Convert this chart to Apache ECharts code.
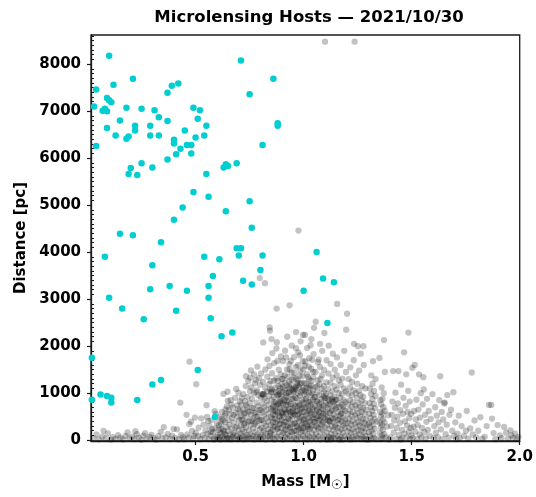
<!DOCTYPE html>
<html>
<head>
<meta charset="utf-8">
<script src="https://cdn.jsdelivr.net/npm/echarts@6/dist/echarts.min.js"></script>
<style>
html,body{margin:0;padding:0;background:#fff;}
#chart{width:536px;height:497px;}
</style>
</head>
<body>
<div id="chart"></div>
<script>
// ---- Data (mass [Msun], distance [pc]) ----
const titleText = 'Microlensing Hosts \u2014 2021/10/30';
const xTicks = [0.5, 1.0, 1.5, 2.0];
const yTicks = [0, 1000, 2000, 3000, 4000, 5000, 6000, 7000, 8000];
const xMinorTicks = [0.1,0.2,0.3,0.4,0.6,0.7,0.8,0.9,1.1,1.2,1.3,1.4,1.6,1.7,1.8,1.9];
const yMinorTicks = [100,200,300,400,500,600,700,800,900,1100,1200,1300,1400,1500,1600,1700,1800,1900,
  2100,2200,2300,2400,2500,2600,2700,2800,2900,3100,3200,3300,3400,3500,3600,3700,3800,3900,
  4100,4200,4300,4400,4500,4600,4700,4800,4900,5100,5200,5300,5400,5500,5600,5700,5800,5900,
  6100,6200,6300,6400,6500,6600,6700,6800,6900,7100,7200,7300,7400,7500,7600,7700,7800,7900,
  8100,8200,8300,8400,8500,8600];

// Detected microlensing hosts (cyan)
const detectedHosts = [
[0.10,8180],[0.71,8080],[0.86,7690],[0.21,7690],[0.04,7460],[0.12,7560],[0.39,7540],[0.42,7590],
[0.37,7390],[0.75,7360],[0.09,7280],[0.10,7230],[0.11,7190],[0.03,7100],[0.07,7010],[0.08,7050],
[0.09,7000],[0.18,7070],[0.25,7050],[0.31,7020],[0.49,7070],[0.52,7020],[0.33,6870],[0.15,6800],
[0.37,6790],[0.51,6840],[0.22,6690],[0.29,6690],[0.55,6690],[0.88,6740],[0.88,6690],[0.09,6640],
[0.22,6590],[0.45,6590],[0.13,6480],[0.19,6460],[0.18,6410],[0.29,6480],[0.33,6480],[0.54,6480],
[0.50,6440],[0.40,6390],[0.40,6310],[0.46,6280],[0.48,6280],[0.04,6260],[0.81,6280],[0.43,6200],
[0.41,6080],[0.48,6100],[0.37,5970],[0.25,5890],[0.20,5790],[0.30,5800],[0.19,5660],[0.23,5640],
[0.64,5870],[0.63,5800],[0.65,5830],[0.69,5890],[0.55,5660],[0.49,5280],[0.56,5180],[0.75,5080],
[0.44,4950],[0.64,4870],[0.40,4690],[0.76,4520],[0.15,4390],[0.21,4360],[0.34,4210],[0.69,4080],
[0.71,4080],[0.08,3900],[0.54,3900],[0.61,3850],[0.70,3930],[0.81,3930],[1.06,4000],[0.30,3720],
[0.80,3620],[0.58,3490],[0.72,3390],[0.76,3310],[1.09,3440],[1.14,3360],[0.29,3210],[0.38,3280],
[0.56,3280],[0.46,3180],[1.00,3180],[0.10,3030],[0.56,3030],[0.16,2800],[0.41,2750],[0.26,2570],
[0.57,2590],[0.67,2290],[0.62,2210],[1.11,2490],[0.02,1750],[0.51,1490],[0.02,860],[0.06,970],
[0.09,940],[0.11,900],[0.11,800],[0.23,850],[0.30,1180],[0.34,1280],[0.59,490]
];

// Simulated host population (grey)
const simulatedHosts = [
[0.027,42],[0.041,118],[0.052,15],[0.068,73],[0.083,31],[0.094,142],[0.108,8],[0.117,64],[0.129,27],[0.141,103],
[0.152,49],[0.163,12],[0.176,88],[0.185,161],[0.194,36],[0.207,72],[0.216,18],[0.228,125],[0.237,53],[0.249,5],
[0.258,96],[0.266,148],[0.274,24],[0.287,67],[0.296,112],[0.305,38],[0.318,9],[0.327,84],[0.339,176],[0.346,41],
[0.353,276],[0.362,59],[0.371,131],[0.383,22],[0.391,93],[0.398,238],[0.406,47],[0.414,228],[0.421,14],[0.429,795],
[0.433,108],[0.441,61],[0.447,17],[0.074,196],[0.221,189],
[0.458,537],[0.471,338],[0.479,392],[0.497,478],[0.503,1188],[0.472,1668],[0.462,118],[0.468,55],[0.484,197],[0.489,28],
[0.501,152],[0.512,81],[0.514,263],[0.521,19],[0.526,462],[0.533,107],[0.537,329],[0.542,46],[0.546,204],[0.493,88],
[0.551,741],[0.553,491],[0.556,138],[0.561,21],[0.564,297],[0.569,92],[0.573,421],[0.577,233],[0.581,168],[0.584,37],
[0.588,617],[0.591,252],[0.594,558],[0.597,63],[0.599,362],[0.572,176],[0.586,11],[0.558,405],
[0.603,112],[0.606,27],[0.608,312],[0.611,481],[0.614,153],[0.616,9],[0.619,238],[0.622,597],[0.624,71],[0.626,418],
[0.629,982],[0.631,183],[0.633,34],[0.636,386],[0.638,521],[0.641,102],[0.643,277],[0.645,718],[0.647,48],[0.649,836],
[0.612,62],[0.618,344],[0.627,206],[0.634,129],[0.639,655],[0.644,17],[0.607,219],[0.621,452],[0.648,1028],[0.637,561],
[0.651,198],[0.652,428],[0.654,638],[0.656,36],[0.657,327],[0.659,118],[0.661,557],[0.662,849],[0.664,13],[0.666,759],
[0.667,247],[0.669,468],[0.671,68],[0.672,689],[0.674,121],[0.676,538],[0.677,378],[0.679,158],[0.681,27],[0.683,898],
[0.684,268],[0.686,579],[0.688,1088],[0.689,89],[0.691,292],[0.693,739],[0.694,497],[0.696,19],[0.697,658],[0.699,203],
[0.698,1008],
[0.701,418],[0.702,58],[0.704,628],[0.705,822],[0.707,29],[0.708,138],[0.709,308],[0.711,517],[0.712,757],[0.713,428],
[0.714,896],[0.716,81],[0.717,226],[0.718,437],[0.719,647],[0.721,976],[0.722,11],[0.723,555],[0.724,331],[0.726,168],
[0.727,362],[0.728,578],[0.729,828],[0.731,52],[0.732,1148],[0.733,268],[0.734,741],[0.736,108],[0.737,487],[0.738,698],
[0.739,21],[0.741,921],[0.742,383],[0.743,611],[0.744,1258],[0.746,59],[0.747,207],[0.748,402],[0.749,607],[0.733,1358],
[0.751,789],[0.752,1043],[0.753,1328],[0.754,128],[0.756,318],[0.757,541],[0.758,1118],[0.759,31],[0.761,878],[0.762,688],
[0.763,408],[0.764,88],[0.766,248],[0.767,461],[0.768,681],[0.769,998],[0.771,12],[0.772,348],[0.773,578],[0.774,1208],
[0.776,172],[0.777,378],[0.778,591],[0.779,1278],[0.781,63],[0.782,798],[0.783,488],[0.784,1058],[0.786,121],[0.787,302],
[0.788,508],[0.789,718],[0.791,948],[0.792,22],[0.793,1318],[0.794,412],[0.796,642],[0.797,3448],[0.798,72],[0.799,228],
[0.798,1178],[0.756,1482],[0.771,1398],[0.786,1562],[0.781,1020],
[0.801,428],[0.802,638],[0.803,1418],[0.804,23],[0.805,112],[0.806,261],[0.807,419],[0.808,588],[0.809,771],[0.811,982],
[0.812,1238],[0.813,2078],[0.814,58],[0.815,188],[0.816,352],[0.817,521],[0.818,701],[0.819,888],[0.821,3338],[0.822,1118],
[0.823,1502],[0.824,11],[0.825,142],[0.826,301],[0.827,462],[0.828,641],[0.829,829],[0.831,1032],[0.832,1348],[0.833,1718],
[0.834,78],[0.835,232],[0.836,391],[0.837,568],[0.838,752],[0.839,938],[0.841,1192],[0.842,1578],[0.843,2398],[0.844,2328],
[0.845,31],[0.846,158],[0.847,322],[0.848,491],[0.849,668],
[0.845,1078],[0.847,1258],[0.849,1028],[0.803,898],[0.807,978],[0.812,958],[0.816,988],[0.844,91],[0.848,178],
[0.851,2148],[0.852,862],[0.853,1082],[0.854,1422],[0.855,1852],[0.856,48],[0.857,212],[0.858,381],[0.859,548],[0.861,732],
[0.862,918],[0.863,1262],[0.864,1638],[0.865,12],[0.866,118],[0.867,281],[0.868,452],[0.869,621],[0.871,802],[0.872,1012],
[0.873,1318],[0.874,1948],[0.875,2798],[0.876,2082],[0.877,68],[0.878,238],[0.879,412],[0.881,582],[0.882,768],[0.883,962],
[0.884,1148],[0.885,1498],[0.886,29],[0.887,172],[0.888,338],[0.889,512],[0.891,688],[0.892,882],[0.893,1102],[0.894,1398],
[0.895,1778],[0.896,92],[0.897,258],[0.898,428],[0.899,598],
[0.879,1258],[0.889,988],[0.899,1298],[0.858,632],[0.874,742],[0.890,822],[0.898,952],[0.879,1682],
[0.8535,455],[0.8572,689],[0.8604,291],[0.8641,806],[0.8667,533],[0.8703,372],[0.8738,611],[0.8776,947],[0.8812,249],
[0.8849,703],[0.8884,489],[0.8921,352],[0.8957,822],[0.8993,577],[0.8558,1017],[0.8696,1122],[0.8835,1043],[0.8975,1187],
[0.901,788],[0.902,1022],[0.903,1302],[0.904,1678],[0.905,12],[0.906,148],[0.907,318],[0.908,492],[0.909,658],[0.911,848],
[0.912,1068],[0.913,1378],[0.914,1902],[0.915,61],[0.916,222],[0.917,388],[0.918,561],[0.919,742],[0.921,928],[0.922,1162],
[0.923,1502],[0.924,2198],[0.925,32],[0.926,128],[0.927,292],[0.928,458],[0.929,628],[0.931,812],[0.932,1008],[0.933,1248],
[0.934,1618],[0.935,2868],[0.936,82],[0.937,252],[0.938,418],[0.939,592],[0.941,768],[0.942,962],[0.943,1188],[0.944,1442],
[0.945,2008],[0.946,22],[0.947,168],[0.948,342],[0.949,508],
[0.922,842],[0.930,1018],[0.934,1098],[0.915,1218],[0.925,1352],[0.935,1502],[0.945,1288],[0.919,1758],[0.941,1682],
[0.9027,546],[0.9063,771],[0.9098,389],[0.9134,642],[0.9171,903],[0.9206,311],[0.9242,587],[0.9279,748],[0.9313,452],
[0.9349,666],[0.9385,283],[0.9422,531],[0.9457,873],[0.9494,617],[0.9046,1121],[0.9188,1003],[0.9331,1138],[0.9472,1072],
[0.9117,197],[0.9399,173],
[0.951,678],[0.952,878],[0.953,1088],[0.954,1332],[0.955,1762],[0.956,48],[0.957,198],[0.958,371],[0.959,538],[0.961,722],
[0.962,908],[0.963,1128],[0.964,1558],[0.965,2298],[0.966,12],[0.967,112],[0.968,278],[0.969,452],[0.971,618],[0.972,798],
[0.973,998],[0.974,1268],[0.975,1868],[0.976,4458],[0.977,68],[0.978,228],[0.979,398],[0.981,568],[0.982,748],[0.983,942],
[0.984,1198],[0.985,1478],[0.986,2102],[0.987,28],[0.988,162],[0.989,328],[0.991,498],[0.992,672],[0.993,858],[0.994,1062],
[0.995,1358],[0.996,1678],[0.997,88],[0.998,262],[0.999,432],
[0.954,1022],[0.962,1098],[0.970,1212],[0.978,1128],[0.958,1428],[0.966,1302],[0.974,1592],[0.982,1372],[0.990,1218],
[0.998,1502],[0.965,1958],[0.983,1802],[0.997,2238],
[0.9523,563],[0.9558,741],[0.9594,347],[0.9631,612],[0.9667,887],[0.9702,298],[0.9738,541],[0.9775,719],[0.9811,463],
[0.9846,677],[0.9882,262],[0.9919,589],[0.9954,803],[0.9991,371],[0.9572,1053],[0.9714,1161],[0.9857,1017],[0.9983,1112],
[0.9643,193],[0.9927,203],
[1.001,598],[1.002,778],[1.003,978],[1.004,1218],[1.005,1582],[1.006,2238],[1.007,38],[1.008,182],[1.009,352],[1.011,518],
[1.012,702],[1.013,888],[1.014,1112],[1.015,1402],[1.016,1958],[1.017,12],[1.018,118],[1.019,288],[1.021,462],[1.022,628],
[1.023,812],[1.024,1008],[1.025,1292],[1.026,1742],[1.027,72],[1.028,242],[1.029,408],[1.031,582],[1.032,758],[1.033,952],
[1.034,1168],[1.035,1518],[1.036,2148],[1.037,22],[1.038,148],[1.039,322],[1.041,488],[1.042,658],[1.043,852],[1.044,1062],
[1.045,1338],[1.046,1828],[1.047,58],[1.048,208],[1.049,382],
[1.004,1052],[1.012,1198],[1.020,1342],[1.028,1102],[1.036,1258],[1.044,1452],[1.008,1672],[1.024,1562],[1.040,1708],
[1.032,2018],[1.048,2388],
[1.0026,447],[1.0063,683],[1.0099,871],[1.0134,312],[1.0171,561],[1.0207,742],[1.0243,393],[1.0278,627],[1.0315,818],
[1.0352,281],[1.0388,533],[1.0423,702],[1.0459,451],[1.0496,913],[1.0117,1013],[1.0262,1147],[1.0404,989],[1.0188,236],
[1.051,548],[1.052,728],[1.053,918],[1.054,1128],[1.055,1448],[1.056,2518],[1.057,28],[1.058,128],[1.059,298],[1.061,468],
[1.062,642],[1.063,818],[1.064,1018],[1.065,1268],[1.066,1658],[1.067,78],[1.068,248],[1.069,418],[1.071,592],[1.072,768],
[1.073,958],[1.074,1188],[1.075,1558],[1.076,2048],[1.077,12],[1.078,168],[1.079,338],[1.081,508],[1.082,688],[1.083,878],
[1.084,1088],[1.085,1378],[1.086,1898],[1.087,52],[1.088,218],[1.089,388],[1.091,562],[1.092,738],[1.093,928],[1.094,1148],
[1.095,1492],[1.096,2278],[1.097,98],[1.098,268],[1.099,8478],
[1.062,1148],[1.078,1302],[1.094,1022],[1.070,1712],[1.097,898],
[1.0527,387],[1.0562,611],[1.0598,827],[1.0637,268],[1.0673,512],[1.0708,703],[1.0744,443],[1.0781,577],[1.0817,802],
[1.0853,331],[1.0889,659],[1.0926,471],
[1.101,438],[1.102,612],[1.103,788],[1.104,988],[1.105,1228],[1.106,1698],[1.107,18],[1.108,158],[1.109,328],[1.111,498],
[1.112,678],[1.113,868],[1.114,1088],[1.115,1418],[1.116,2008],[1.117,68],[1.118,238],[1.119,408],[1.121,578],[1.122,758],
[1.123,958],[1.124,1218],[1.125,1618],[1.126,12],[1.127,128],[1.128,298],[1.129,468],[1.131,638],[1.132,828],[1.133,1038],
[1.134,1328],[1.135,1838],[1.136,48],[1.137,208],[1.138,378],[1.139,548],[1.141,728],[1.142,918],[1.143,1148],[1.144,1498],
[1.145,28],[1.146,138],[1.147,318],[1.148,488],[1.149,668],
[1.101,898],[1.119,842],[1.131,878],[1.146,852],[1.113,422],[1.137,452],[1.109,9],[1.127,52],
[1.1034,557],[1.1118,741],[1.1206,393],[1.1288,617],[1.1373,811],[1.1452,268],
[1.151,858],[1.152,1078],[1.153,1378],[1.154,1758],[1.155,2898],[1.156,88],[1.157,258],[1.158,428],[1.159,598],[1.161,788],
[1.162,998],[1.163,1268],[1.164,18],[1.165,178],[1.166,348],[1.167,518],[1.168,698],[1.169,898],[1.171,1178],[1.172,1598],
[1.173,58],[1.174,228],[1.175,398],[1.176,568],[1.177,758],[1.178,978],[1.179,1308],[1.181,8],[1.182,148],[1.183,308],
[1.184,478],[1.185,648],[1.186,848],[1.187,1098],[1.188,1898],[1.189,82],[1.191,258],[1.192,438],[1.193,618],[1.194,808],
[1.195,1038],[1.196,1448],[1.197,2348],
[1.152,698],[1.163,442],[1.173,558],[1.183,712],[1.193,352],[1.166,12],
[1.201,2688],[1.202,28],[1.203,188],[1.204,368],[1.205,558],[1.206,758],[1.207,988],[1.208,1298],[1.209,78],[1.211,258],
[1.212,448],[1.213,638],[1.214,848],[1.215,1118],[1.216,1548],[1.217,8],[1.218,148],[1.219,328],[1.221,518],[1.222,718],
[1.223,948],[1.224,1238],[1.225,58],[1.226,228],[1.227,408],[1.228,598],[1.229,808],[1.231,1058],[1.232,1698],[1.236,8478],
[1.233,2048],[1.234,18],[1.235,168],[1.237,348],[1.238,538],[1.239,738],[1.241,998],[1.242,1378],[1.243,88],[1.244,278],
[1.245,468],[1.246,668],[1.247,898],[1.248,1198],[1.249,38],
[1.251,1998],[1.252,208],[1.253,388],[1.254,578],[1.255,788],[1.256,1048],[1.257,1478],[1.258,118],[1.259,308],[1.261,498],
[1.262,708],[1.263,958],[1.264,1838],[1.265,18],[1.266,198],[1.267,378],[1.268,598],[1.269,838],[1.271,1148],[1.272,68],
[1.273,268],[1.274,458],[1.275,678],[1.276,918],[1.277,1998],[1.278,1598],[1.279,28],[1.281,168],[1.282,358],[1.283,558],
[1.284,788],[1.285,1098],[1.286,88],[1.287,248],[1.288,438],[1.289,648],[1.291,12],[1.295,318],
[1.301,8],[1.302,168],[1.303,358],[1.304,558],[1.305,788],[1.306,1098],[1.307,88],[1.308,278],[1.309,478],[1.311,698],
[1.312,978],[1.313,1378],[1.314,28],[1.315,208],[1.316,398],[1.317,618],[1.318,868],[1.319,1198],[1.321,1678],[1.322,128],
[1.323,328],[1.324,538],[1.325,768],[1.326,1048],[1.327,48],[1.328,238],[1.329,448],[1.331,678],[1.332,938],[1.333,1298],
[1.336,18],[1.341,398],
[1.351,1748],[1.352,148],[1.353,368],[1.354,598],[1.355,848],[1.356,18],[1.357,268],[1.358,498],[1.359,758],[1.361,1118],
[1.362,98],[1.363,328],[1.364,568],[1.365,878],[1.366,38],[1.367,218],[1.368,448],[1.369,698],[1.371,998],[1.372,2128],
[1.373,128],[1.374,378],[1.375,618],[1.376,1448],[1.381,58],[1.386,288],[1.391,528],[1.396,12],
[1.402,58],[1.405,298],[1.408,538],[1.411,818],[1.414,1468],[1.417,158],[1.419,418],[1.422,688],[1.425,1008],[1.428,18],
[1.431,258],[1.434,498],[1.436,778],[1.439,1468],[1.442,108],[1.445,368],[1.447,638],[1.451,1178],[1.454,38],[1.456,218],
[1.459,558],[1.462,898],[1.465,1868],[1.467,138],[1.469,398],[1.472,728],[1.475,1398],[1.477,58],[1.479,308],[1.481,598],
[1.484,1048],[1.485,2288],[1.487,178],[1.489,468],[1.491,818],[1.493,18],[1.495,258],[1.497,558],[1.499,98],[1.449,8],
[1.503,1538],[1.505,48],[1.508,288],[1.511,618],[1.514,1598],[1.517,178],[1.519,438],[1.522,858],[1.525,18],[1.528,318],
[1.531,648],[1.534,1398],[1.537,118],[1.539,478],[1.542,998],[1.545,58],[1.548,258],[1.551,758],[1.554,1338],[1.556,1078],
[1.559,168],[1.562,538],[1.565,28],[1.568,388],[1.571,878],[1.575,218],[1.579,618],[1.583,88],[1.588,448],[1.596,978],
[1.602,38],[1.605,298],[1.609,698],[1.612,158],[1.616,518],[1.621,58],[1.624,378],[1.628,848],[1.632,1358],[1.635,228],
[1.639,598],[1.643,18],[1.646,438],[1.651,778],[1.653,798],[1.657,128],[1.662,328],[1.665,958],[1.671,48],[1.675,538],
[1.682,645],[1.688,198],[1.693,1018],[1.697,88],
[1.702,378],[1.706,18],[1.712,138],[1.718,518],[1.722,38],[1.731,298],[1.742,88],[1.751,198],[1.755,618],[1.762,28],
[1.771,248],[1.778,1438],[1.783,118],[1.791,418],[1.798,58],
[1.808,198],[1.818,488],[1.826,28],[1.838,68],[1.847,298],[1.858,748],[1.868,748],[1.872,458],[1.879,148],[1.887,18],
[1.898,318],[1.908,98],[1.916,38],[1.928,278],[1.937,158],[1.946,28],[1.957,208],[1.961,98],[1.969,48],[1.978,138],
[1.987,18],[1.994,68]
];

// ---- Chart ----
const FONT = "'DejaVu Sans', sans-serif";
const X_MIN = 0.016, X_MAX = 2.0, Y_MIN = -20, Y_MAX = 8620;
const axisColor = '#1a1a1a';
const chart = echarts.init(document.getElementById('chart'), null, {renderer: 'canvas'});

chart.setOption({
  animation: false,
  backgroundColor: '#ffffff',
  title: {
    text: titleText,
    left: 304, top: 4, textAlign: 'center',
    textStyle: {fontFamily: FONT, fontWeight: 'bold', fontSize: 16.5, color: '#000'}
  },
  grid: {
    left: 91, right: 11, top: 35, bottom: 51,
    show: true, borderColor: axisColor, borderWidth: 1.3, backgroundColor: 'transparent'
  },
  xAxis: [{
    type: 'value', min: X_MIN, max: X_MAX, position: 'bottom',
    name: 'Mass [M{sun|\u2609}]', nameLocation: 'middle', nameGap: 31,
    nameTextStyle: {fontFamily: FONT, fontWeight: 'bold', fontSize: 15, color: '#000',
      rich: {sun: {fontFamily: FONT, fontWeight: 'bold', fontSize: 13, color: '#000', padding: [7, 0, 0, 0]}}},
    axisLine: {show: true, onZero: false, lineStyle: {color: axisColor, width: 1.3}},
    axisTick: {show: true, inside: false, length: 4, customValues: xTicks, lineStyle: {color: axisColor, width: 1.2}},
    axisLabel: {show: true, customValues: xTicks, margin: 9, fontFamily: FONT, fontWeight: 'bold', fontSize: 15, color: '#000',
      formatter: v => v.toFixed(1)},
    splitLine: {show: false}
  }, {
    type: 'value', min: X_MIN, max: X_MAX, position: 'bottom',
    axisLine: {show: false},
    axisTick: {show: true, inside: true, length: 3, customValues: xMinorTicks, lineStyle: {color: axisColor, width: 1}},
    axisLabel: {show: false}, splitLine: {show: false}
  }],
  yAxis: [{
    type: 'value', min: Y_MIN, max: Y_MAX, position: 'left',
    name: 'Distance [pc]', nameLocation: 'middle', nameGap: 55, nameRotate: 90,
    nameTextStyle: {fontFamily: FONT, fontWeight: 'bold', fontSize: 15, color: '#000'},
    axisLine: {show: true, onZero: false, lineStyle: {color: axisColor, width: 1.3}},
    axisTick: {show: true, inside: false, length: 4, customValues: yTicks, lineStyle: {color: axisColor, width: 1.2}},
    axisLabel: {show: true, customValues: yTicks, margin: 10, fontFamily: FONT, fontWeight: 'bold', fontSize: 15, color: '#000',
      formatter: v => String(Math.round(v))},
    splitLine: {show: false}
  }, {
    type: 'value', min: Y_MIN, max: Y_MAX, position: 'left',
    axisLine: {show: false},
    axisTick: {show: true, inside: true, length: 3, customValues: yMinorTicks, lineStyle: {color: axisColor, width: 1}},
    axisLabel: {show: false}, splitLine: {show: false}
  }],
  series: [{
    name: 'Simulated', type: 'scatter', xAxisIndex: 0, yAxisIndex: 0,
    data: simulatedHosts, symbol: 'circle', symbolSize: 6.3,
    itemStyle: {color: 'rgba(0,0,0,0.235)', opacity: 1, borderWidth: 0, borderColor: 'transparent'},
    silent: true, z: 2
  }, {
    name: 'Detected', type: 'scatter', xAxisIndex: 0, yAxisIndex: 0,
    data: detectedHosts, symbol: 'circle', symbolSize: 6.5,
    itemStyle: {color: '#00CED1', opacity: 1, borderWidth: 0, borderColor: 'transparent'},
    silent: true, z: 3
  }]
});
</script>
</body>
</html>
